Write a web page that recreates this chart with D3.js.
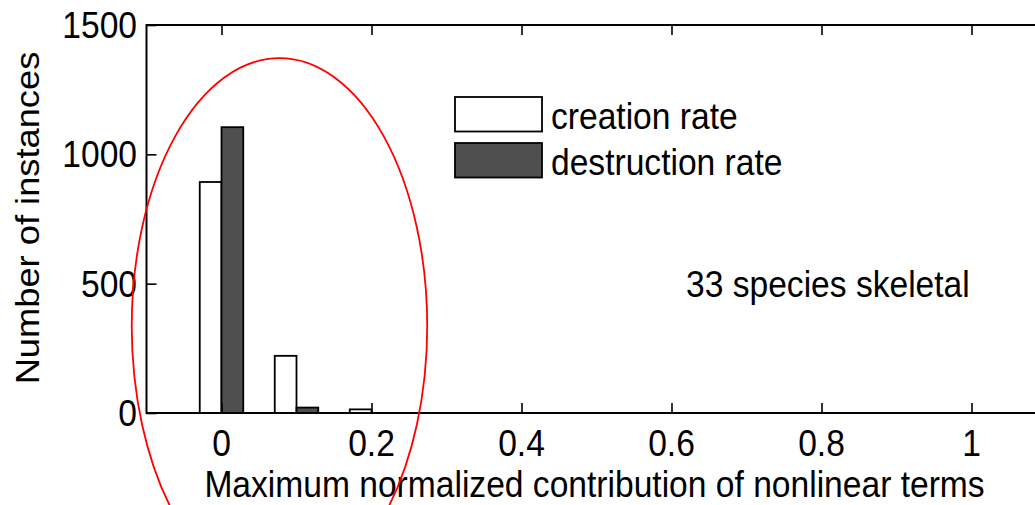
<!DOCTYPE html>
<html>
<head>
<meta charset="utf-8">
<script src="https://cdn.jsdelivr.net/npm/d3@7"></script>
<style>
  html, body { margin: 0; padding: 0; background: #fff; }
  svg { display: block; }
  text { font-family: "Liberation Sans", Arial, sans-serif; fill: #000; }
</style>
</head>
<body>
<svg id="chart" width="1035" height="505"></svg>
<script>
// Histogram bins (centres) and counts for each rate type
const binCentres   = [0, 0.1, 0.2, 0.3, 0.4, 0.5, 0.6, 0.7, 0.8, 0.9, 1.0];
const creation     = [893, 221, 14, 0, 0, 0, 0, 0, 0, 0, 0];
const destruction  = [1105, 21, 0, 0, 0, 0, 0, 0, 0, 0, 0];
const seriesNames  = ["creation rate", "destruction rate"];
const xTicks       = [0, 0.2, 0.4, 0.6, 0.8, 1];
const yTicks       = [0, 500, 1000, 1500];
const xLabel       = "Maximum normalized contribution of nonlinear terms";
const yLabel       = "Number of instances";
const annotation   = "33 species skeletal";
// highlighted region: centre and radii in data units
const ringCentre   = [0.0773, 336];
const ringRadii    = [0.197, 1036];

const svg = d3.select("#chart");
const plotL = 146.5, plotT = 25, plotB = 413, plotR = 1046.5;

const x = d3.scaleLinear().domain([-0.1, 1.1]).range([plotL, plotR]);
const y = d3.scaleLinear().domain([0, 1500]).range([plotB, plotT]);

const FS = 33.6, SY = 1.08; // font size and vertical stretch of glyphs
const fills = ["#ffffff", "#4f4f4f"];
const barW = 0.029;         // width of one bar in data units

const root = svg.append("g");

// bars
const series = [creation, destruction];
series.forEach((vals, s) => {
  root.append("g").selectAll("rect")
    .data(binCentres.map((c, i) => ({ c, v: vals[i] })).filter(d => d.v > 0))
    .join("rect")
    .attr("x", d => x(d.c + (s === 0 ? -barW : 0)))
    .attr("width", d => x(d.c + barW) - x(d.c))
    .attr("y", d => y(d.v))
    .attr("height", d => y(0) - y(d.v))
    .attr("fill", fills[s])
    .attr("stroke", "#000")
    .attr("stroke-width", 1.8);
});

// axes box and inward ticks
const axisG = root.append("g").attr("stroke", "#000").attr("stroke-width", 2).attr("fill", "none");
axisG.append("path").attr("d", `M${plotR},${plotT}H${plotL}V${plotB}H${plotR}V${plotT}`);

const tickLen = 10;
const bottomAxis = d3.axisBottom(x).tickValues(xTicks).tickSizeInner(-tickLen).tickSizeOuter(0).tickFormat("");
const topAxis = d3.axisTop(x).tickValues(xTicks).tickSizeInner(-tickLen).tickSizeOuter(0).tickFormat("");
const leftAxis = d3.axisLeft(y).tickValues(yTicks).tickSizeInner(-tickLen).tickSizeOuter(0).tickFormat("");

function styleAxis(g) {
  g.select(".domain").remove();
  g.selectAll(".tick line").attr("stroke", "#000").attr("stroke-width", 1.6);
}
root.append("g").attr("transform", `translate(0,${plotB})`).call(bottomAxis).call(styleAxis);
root.append("g").attr("transform", `translate(0,${plotT})`).call(topAxis).call(styleAxis);
root.append("g").attr("transform", `translate(${plotL},0)`).call(leftAxis).call(styleAxis);

// text helper with slight vertical stretch
function label(g, str, px, py, anchor, rot) {
  return g.append("text")
    .attr("transform", `translate(${px},${py})` + (rot ? ` rotate(${rot}) scale(${SY},1)` : ` scale(1,${SY})`))
    .attr("font-size", FS)
    .attr("text-anchor", anchor || "start")
    .text(str);
}

const txt = root.append("g");
xTicks.forEach(v => label(txt, String(v), x(v), 456, "middle"));
yTicks.forEach(v => label(txt, String(v), 137, y(v) + 13, "end"));
label(txt, xLabel, (208 + 981) / 2, 497, "middle");
label(txt, yLabel, 39, 218, "middle", -90);
label(txt, annotation, 686, 297, "start");

// legend
const legend = root.append("g");
const legX = 455, legY = [97, 143], legW = 87, legH = 34.5;
seriesNames.forEach((n, i) => {
  legend.append("rect")
    .attr("x", legX).attr("y", legY[i]).attr("width", legW).attr("height", legH)
    .attr("fill", fills[i]).attr("stroke", "#000").attr("stroke-width", 1.8);
  label(legend, n, 551, legY[i] + 31.5, "start");
});

// red highlight ring around the low-contribution bins
root.append("ellipse")
  .attr("cx", x(ringCentre[0]))
  .attr("cy", y(ringCentre[1]))
  .attr("rx", x(ringCentre[0] + ringRadii[0]) - x(ringCentre[0]))
  .attr("ry", y(0) - y(ringRadii[1]))
  .attr("fill", "none")
  .attr("stroke", "#ff0000")
  .attr("stroke-width", 1.8);
</script>
</body>
</html>
